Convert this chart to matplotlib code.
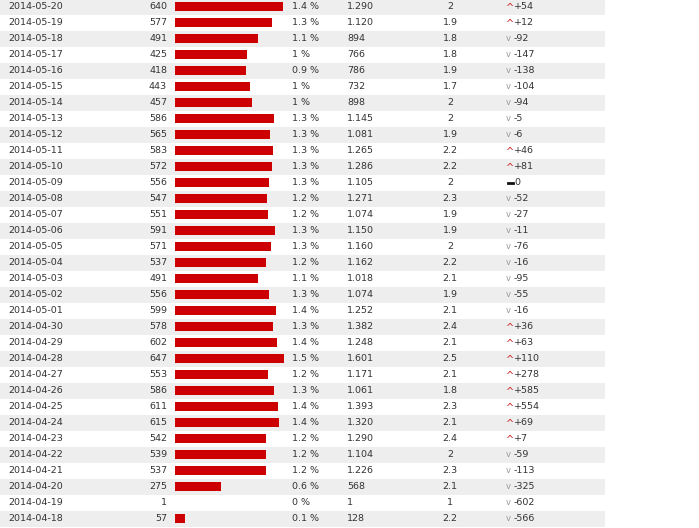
import matplotlib
matplotlib.use("Agg")
import matplotlib.pyplot as plt

dates = ["2014-05-20","2014-05-19","2014-05-18","2014-05-17","2014-05-16","2014-05-15","2014-05-14","2014-05-13",
         "2014-05-12","2014-05-11","2014-05-10","2014-05-09","2014-05-08","2014-05-07","2014-05-06","2014-05-05",
         "2014-05-04","2014-05-03","2014-05-02","2014-05-01","2014-04-30","2014-04-29","2014-04-28","2014-04-27",
         "2014-04-26","2014-04-25","2014-04-24","2014-04-23","2014-04-22","2014-04-21","2014-04-20","2014-04-19","2014-04-18"]
counts = [640,577,491,425,418,443,457,586,565,583,572,556,547,551,591,571,537,491,556,599,578,602,647,553,586,611,615,542,539,537,275,1,57]
pcts = ["1.4 %","1.3 %","1.1 %","1 %","0.9 %","1 %","1 %","1.3 %","1.3 %","1.3 %","1.3 %","1.3 %","1.2 %","1.2 %","1.3 %","1.3 %",
        "1.2 %","1.1 %","1.3 %","1.4 %","1.3 %","1.4 %","1.5 %","1.2 %","1.3 %","1.4 %","1.4 %","1.2 %","1.2 %","1.2 %","0.6 %","0 %","0.1 %"]
views = ["1.290","1.120","894","766","786","732","898","1.145","1.081","1.265","1.286","1.105","1.271","1.074","1.150","1.160",
         "1.162","1.018","1.074","1.252","1.382","1.248","1.601","1.171","1.061","1.393","1.320","1.290","1.104","1.226","568","1","128"]
ratio = ["2","1.9","1.8","1.8","1.9","1.7","2","2","1.9","2.2","2.2","2","2.3","1.9","1.9","2","2.2","2.1","1.9","2.1","2.4","2.1",
         "2.5","2.1","1.8","2.3","2.1","2.4","2","2.3","2.1","1","2.2"]
deltas = [54,12,-92,-147,-138,-104,-94,-5,-6,46,81,0,-52,-27,-11,-76,-16,-95,-55,-16,36,63,110,278,585,554,69,7,-59,-113,-325,-602,-566]

W, H = 699, 528
fig = plt.figure(figsize=(W/100, H/100), dpi=100)
ax = fig.add_axes([0, 0, 1, 1])
ax.set_xlim(0, W); ax.set_ylim(H, 0); ax.axis("off")

pitch = 16.0
y0 = 6.5
scale = 108/640
txt = dict(fontsize=6.8, color="#333333", va="center", family="DejaVu Sans")
for i, d in enumerate(dates):
    y = y0 + i*pitch
    if i % 2 == 0:
        ax.add_patch(plt.Rectangle((0, y-pitch/2), 605, pitch, color="#eeeeee", lw=0, zorder=0))
    ax.barh(y, counts[i]*scale, left=175, height=9.5, color="#cc0000", zorder=2)
    ax.text(8, y, d, ha="left", **txt)
    ax.text(167, y, str(counts[i]), ha="right", **txt)
    ax.text(292, y, pcts[i], ha="left", **txt)
    ax.text(347, y, views[i], ha="left", **txt)
    ax.text(450, y, ratio[i], ha="center", **txt)
    dv = deltas[i]
    if dv > 0:
        ax.text(506, y + 1.5, "^", ha="left", fontsize=7, color="#cc2222", va="center")
        ax.text(514, y, f"+{dv}", ha="left", **txt)
    elif dv < 0:
        ax.text(506, y, "v", ha="left", fontsize=6, color="#999999", va="center")
        ax.text(514, y, f"{dv}", ha="left", **txt)
    else:
        ax.plot([508, 513], [y, y], color="#111111", lw=2)
        ax.text(514, y, "0", ha="left", **txt)

fig.savefig("out.png", dpi=100)
